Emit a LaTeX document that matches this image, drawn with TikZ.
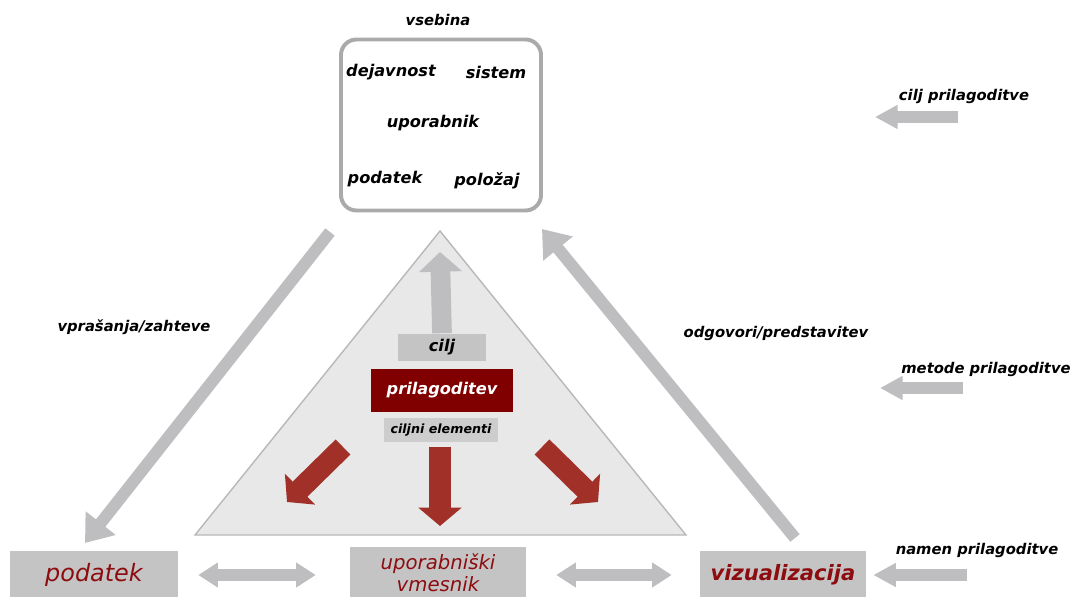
\documentclass[tikz,border=0pt]{standalone}
\usepackage{fontspec}
\setmainfont{DejaVu Sans}
\usetikzlibrary{arrows.meta}
\definecolor{arrgray}{RGB}{190,190,192}
\definecolor{boxline}{RGB}{170,170,170}
\definecolor{trifill}{RGB}{232,232,232}
\definecolor{triline}{RGB}{184,184,184}
\definecolor{boxgray}{RGB}{196,196,196}
\definecolor{darkred}{RGB}{128,0,0}
\definecolor{arrred}{RGB}{160,48,40}
\definecolor{textred}{RGB}{140,12,16}
\begin{document}
\begin{tikzpicture}[x=0.025cm, y=-0.025cm,
  every node/.style={font=\fontsize{10.5}{12}\selectfont\bfseries\itshape},
  inner/.style={font=\fontsize{11.5}{13}\selectfont\bfseries\itshape},
  gbox/.style={fill=boxgray, inner sep=0pt, align=center},
  bigbox/.style={gbox, text=textred, font=\fontsize{17}{18}\selectfont\itshape},
  garrow/.style={draw=arrgray, line width=8.5pt, -{Triangle[length=18pt, width=26pt]}},
  sarrow/.style={draw=arrgray, line width=8.5pt, -{Triangle[length=16pt, width=16pt]}},
  darrow/.style={draw=arrgray, line width=8.5pt, {Triangle[length=14pt, width=17pt]}-{Triangle[length=14pt, width=17pt]}},
  rarrow/.style={draw=arrred, line width=15pt, -{Triangle[length=13pt, width=30pt]}}]
\useasboundingbox (0,0) rectangle (1080,597);
\node[draw=boxline, line width=2.8pt, rounded corners=11pt, minimum width=200*0.025cm, minimum height=171*0.025cm] (inhalt) at (441,125) {};
\node (vsebina) at (438,20) {vsebina};
\node[inner] (dejavnost) at (391,72) {dejavnost};
\node[inner] (sistem) at (496,72) {sistem};
\node[inner] (uporabnik) at (433,123) {uporabnik};
\node[inner] (podatekin) at (385,179) {podatek};
\node[inner] (polozaj) at (487,181) {položaj};
\fill[trifill, draw=triline, line width=1pt] (440,231) -- (686,535) -- (195,535) -- cycle;
\node[gbox, minimum width=88*0.025cm, minimum height=27*0.025cm, font=\fontsize{11.5}{13}\selectfont\bfseries\itshape] (cilj) at (442,347) {cilj};
\node[fill=darkred, text=white, minimum width=142*0.025cm, minimum height=43*0.025cm, inner sep=0pt, font=\fontsize{11.5}{13}\selectfont\bfseries\itshape] (prilagoditev) at (442,390) {prilagoditev};
\node[gbox, fill=boxgray!85, minimum width=114*0.025cm, minimum height=24*0.025cm, font=\fontsize{9}{11}\selectfont\bfseries\itshape] (ciljni) at (441,430) {ciljni elementi};
\draw[draw=arrgray, line width=14pt, -{Triangle[length=14pt, width=30pt]}] (cilj.north) -- (440,252);
\coordinate (rl1) at (343,447);
\coordinate (rl2) at (287,502);
\coordinate (rm1) at (440,447);
\coordinate (rm2) at (440,526);
\coordinate (rr1) at (542,447);
\coordinate (rr2) at (598,502);
\draw[rarrow] (rl1) -- (rl2);
\draw[rarrow] (rm1) -- (rm2);
\draw[rarrow] (rr1) -- (rr2);
\node[bigbox, minimum width=168*0.025cm, minimum height=48*0.025cm] (podatek) at (94,575) {podatek};
\node[gbox, text=textred, font=\fontsize{14}{15.5}\selectfont\itshape, minimum width=176*0.025cm, minimum height=52*0.025cm] (vmesnik) at (438,573) {uporabniški\\vmesnik};
\node[bigbox, font=\fontsize{15}{18}\selectfont\bfseries\itshape, minimum width=166*0.025cm, minimum height=48*0.025cm] (vizualizacija) at (783,575) {vizualizacija};
\coordinate (zs) at (330,232);
\coordinate (ze) at (85,543);
\coordinate (os) at (795,538);
\coordinate (oe) at (542,229);
\draw[garrow] (zs) -- (ze);
\draw[garrow] (os) -- (oe);
\node (zahteve) at (134,327) {vprašanja/zahteve};
\node (odgovori) at (776,333) {odgovori/predstavitev};
\draw[darrow, shorten <=20*0.025cm, shorten >=34*0.025cm] (podatek.east) -- (vmesnik.west |- podatek.east);
\draw[darrow, shorten <=30*0.025cm, shorten >=28*0.025cm] (vmesnik.east |- vizualizacija.west) -- (vizualizacija.west);
\node (ciljp) at (964,96) {cilj prilagoditve};
\node (metode) at (986,369) {metode prilagoditve};
\node (namen) at (977,550) {namen prilagoditve};
\coordinate (c1) at (958,117);
\coordinate (c2) at (875,117);
\coordinate (m1) at (963,388);
\coordinate (m2) at (880,388);
\coordinate (n1) at (967,575);
\draw[sarrow] (c1) -- (c2);
\draw[sarrow] (m1) -- (m2);
\draw[sarrow, shorten >=7*0.025cm] (n1) -- (vizualizacija.east);
\end{tikzpicture}
\end{document}
